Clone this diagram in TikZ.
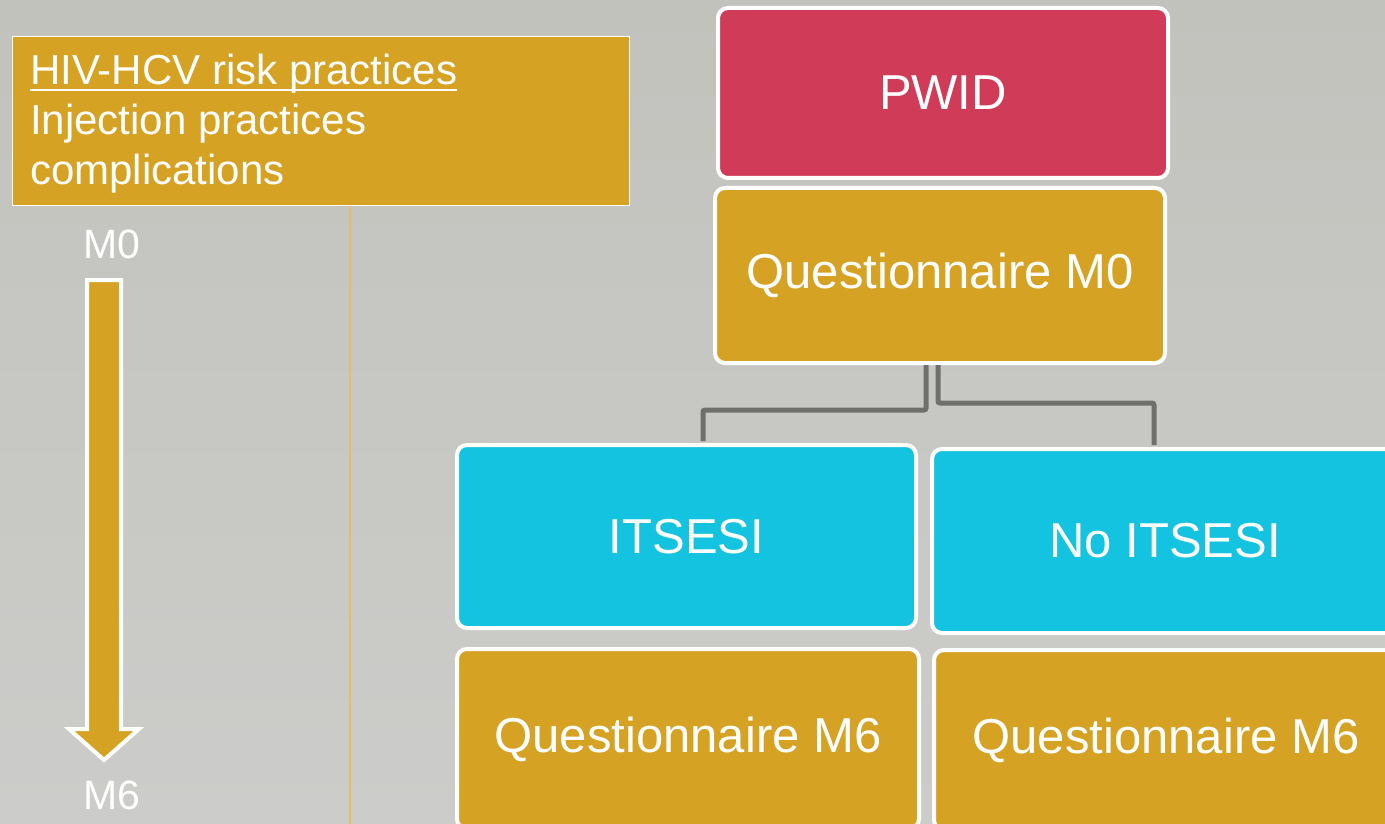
\documentclass[tikz,border=0pt]{standalone}
\usepackage{fontspec}
\setmainfont{Liberation Sans}
\usetikzlibrary{calc}
\definecolor{bgtop}{HTML}{C2C2BD}
\definecolor{bgbot}{HTML}{CCCCCA}
\definecolor{gold}{HTML}{D6A224}
\definecolor{crimson}{HTML}{D03C58}
\definecolor{cyanbox}{HTML}{14C3DF}
\definecolor{connector}{HTML}{6F6F6B}
\definecolor{guide}{HTML}{E9BD5E}
\newcommand\boxfont{\fontsize{49}{59}\selectfont}
\newcommand\notefont{\fontsize{42}{50}\selectfont}
\newcommand\monthfont{\fontsize{41}{49}\selectfont}
\tikzset{
  stagebox/.style={draw=white, line width=4pt, rounded corners=10pt,
    text=white, font=\boxfont, inner sep=0pt, align=center},
  notetext/.style={text=white, font=\notefont, inner sep=0pt, anchor=base west},
  monthlabel/.style={text=white, font=\monthfont, inner sep=0pt},
  link/.style={draw=connector, line width=5pt, rounded corners=2pt, shorten >=2pt}
}
\begin{document}
\begin{tikzpicture}[x=1pt, y=-1pt]
\useasboundingbox (0,0) rectangle (1385,824);
\clip (0,0) rectangle (1385,824);
\shade[top color=bgtop, bottom color=bgbot] (0,0) rectangle (1385,824);

% left panel: topics box
\node[draw=white, fill=gold, line width=1.5pt, minimum width=617pt,
      minimum height=169pt, inner sep=0pt] (topics) at (321,121) {};
\node[notetext] (hiv) at (30,85) {HIV-HCV risk practices};
\draw[white, line width=2.5pt] ([yshift=-5pt]hiv.base west) -- ([yshift=-5pt]hiv.base east);
\node[notetext] (inj) at (30,135) {Injection practices};
\node[notetext] (comp) at (30,185) {complications};

% separator line
\coordinate (sepTop) at (350,206);
\coordinate (sepBot) at (350,824);
\draw[guide, line width=1.2pt] (sepTop) -- (sepBot);

% timeline arrow
\node[monthlabel] (m0) at (112,244) {M0};
\node[monthlabel] (m6) at (112,795) {M6};
\draw[fill=gold, draw=white, line width=4pt, line join=miter]
  (87,280) -- (121,280) -- (121,729) -- (139,729) -- (104,760)
  -- (69,729) -- (87,729) -- cycle;

% flow boxes
\node[stagebox, fill=crimson, minimum width=450pt, minimum height=170pt]
  (pwid) at (943,93) {PWID};
\node[stagebox, fill=gold, minimum width=450pt, minimum height=175pt]
  (q0) at (940,275.5) {Questionnaire M0};
\node[stagebox, fill=cyanbox, minimum width=459pt, minimum height=183pt]
  (its) at (686.5,536.5) {ITSESI};
\node[stagebox, fill=cyanbox, minimum width=466pt, minimum height=184pt]
  (noits) at (1165,541) {No ITSESI};
\node[stagebox, fill=gold, minimum width=462pt, minimum height=180pt]
  (q6a) at (688,739) {Questionnaire M6};
\node[stagebox, fill=gold, minimum width=464pt, minimum height=180pt]
  (q6b) at (1166,740) {Questionnaire M6};

% connectors
\draw[link] ([xshift=-14pt]q0.south) -- ++(0,45) -| ([xshift=16.5pt]its.north);
\draw[link] ([xshift=-2pt]q0.south) -- ++(0,38) -| ([xshift=-11pt]noits.north);
\end{tikzpicture}
\end{document}
